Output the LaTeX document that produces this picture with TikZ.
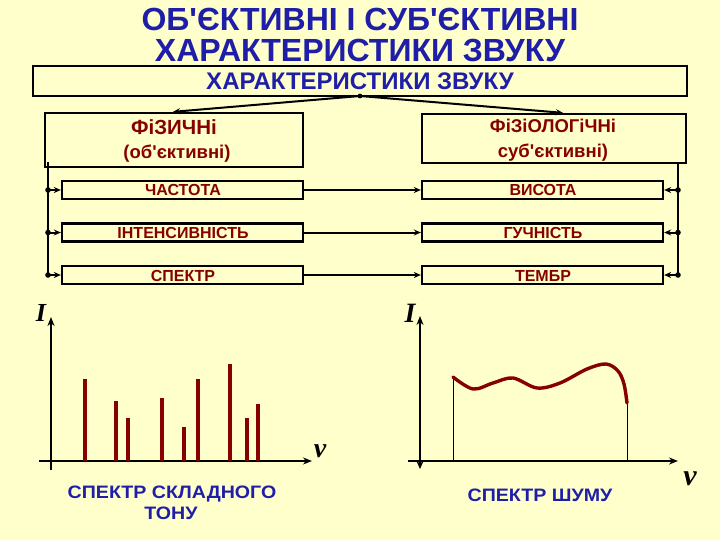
\documentclass[tikz,border=0pt]{standalone}
\usepackage{fontspec}
\setmainfont{Liberation Sans}[Ligatures=TeXOff]
\newfontfamily\widef{Liberation Sans}[Ligatures=TeXOff,FakeStretch=1.09]
\newfontfamily\serf{Liberation Serif}[Ligatures=TeXOff]
\usetikzlibrary{arrows.meta}
\definecolor{bg}{HTML}{FFFFCC}
\definecolor{tblue}{HTML}{1E1EA8}
\definecolor{dred}{HTML}{870000}
\tikzset{
  box/.style={draw=black, line width=2.3pt, inner sep=0pt},
  smallbox/.style={box, minimum width=241pt, minimum height=18pt},
  redtxt/.style={dred, font=\bfseries\fontsize{16}{18}\selectfont, anchor=base},
  conn/.style={line width=2pt, -{Stealth[length=7pt,width=6pt]}},
  bar/.style={dred, line width=3.2pt},
  axis/.style={line width=2pt, -{Stealth[length=9pt,width=7pt]}},
  capt/.style={tblue, font=\widef\bfseries\fontsize{18}{20}\selectfont, anchor=base},
  mathlbl/.style={font=\serf\bfseries\itshape\fontsize{26}{28}\selectfont, anchor=base}
}
\begin{document}
\begin{tikzpicture}[x=1pt,y=-1pt]
\fill[bg] (0,0) rectangle (720,540);
\useasboundingbox (0,0) rectangle (720,540);
% title
\node[tblue, font=\bfseries\fontsize{32}{34}\selectfont, anchor=base] (t1) at (360,31) {ОБ'ЄКТИВНІ І СУБ'ЄКТИВНІ};
\node[tblue, font=\bfseries\fontsize{32}{34}\selectfont, anchor=base] (t2) at (360,62) {ХАРАКТЕРИСТИКИ ЗВУКУ};
% top box
\node[box, minimum width=654pt, minimum height=30pt] (top) at (360,81) {};
\node[tblue, font=\bfseries\fontsize{24}{26}\selectfont, anchor=base] (toptxt) at (360,90) {ХАРАКТЕРИСТИКИ ЗВУКУ};
% big boxes
\node[box, minimum width=258pt, minimum height=54pt] (lbig) at (174,140) {};
\node[box, minimum width=264pt, minimum height=49pt] (rbig) at (554,138.5) {};
\node[dred, font=\bfseries\fontsize{20.5}{22}\selectfont, anchor=base] (lt1) at (174,135) {ФіЗИЧНі};
\node[dred, font=\bfseries\fontsize{18.5}{20}\selectfont, anchor=base] (lt2) at (177,159) {(об'єктивні)};
\node[dred, font=\bfseries\fontsize{18.5}{20}\selectfont, anchor=base] (rt1) at (553,133) {ФіЗіОЛОГіЧНі};
\node[dred, font=\bfseries\fontsize{18.5}{20}\selectfont, anchor=base] (rt2) at (553,158) {суб'єктивні)};
% connectors from top
\coordinate (topc) at (360,96);
\fill (topc) circle (2.4pt);
\draw[conn] (topc) -- ([xshift=-1pt]lbig.north);
\draw[conn] (topc) -- ([xshift=9pt]rbig.north);
% small boxes
\foreach \i/\y/\lt/\rt in {1/190/ЧАСТОТА/ВИСОТА, 2/232.5/ІНТЕНСИВНІСТЬ/ГУЧНІСТЬ, 3/275/СПЕКТР/ТЕМБР}{
  \node[smallbox] (ls\i) at (182.5,\y) {};
  \node[smallbox] (rs\i) at (542.5,\y) {};
  \node[redtxt] (lst\i) at (183,\y+6) {\lt};
  \node[redtxt] (rst\i) at (543,\y+6) {\rt};
  \draw[conn] (ls\i.east) -- (rs\i.west);
  \coordinate (ld\i) at (48,\y);
  \coordinate (rd\i) at (678,\y);
  \fill (ld\i) circle (2.8pt);
  \fill (rd\i) circle (2.8pt);
  \draw[conn] (ld\i) -- (ls\i.west);
  \draw[conn] (rd\i) -- (rs\i.east);
}
\coordinate (lvt) at (48,162);
\coordinate (rvt) at (678,163);
\draw[line width=2pt] (lvt) -- (ld3);
\draw[line width=2pt] (rvt) -- (rd3);
% chart 1
\draw[axis] (51,470) -- (51,317);
\draw[axis] (39,461) -- (312,461);
\node[mathlbl] (i1) at (41,321) {I};
\node[mathlbl, font=\serf\bfseries\itshape\fontsize{28}{30}\selectfont] (v1) at (320,457) {v};
\foreach \x/\t in {85/379, 116/401, 128/418, 162/398, 184/427, 198/379, 230/364, 247/418, 258/404}{
  \draw[bar] (\x,461) -- (\x,\t);
}
\node[capt] (c1) at (172,498) {СПЕКТР СКЛАДНОГО};
\node[capt] (c2) at (171,519) {ТОНУ};
% chart 2
\draw[line width=2.6pt, {Stealth[length=8pt,width=7pt]}-{Stealth[length=9pt,width=7pt]}] (420,469) -- (420,316);
\draw[axis] (408,461) -- (678,461);
\node[mathlbl, font=\serf\bfseries\itshape\fontsize{28}{30}\selectfont] (i2) at (410,322) {I};
\node[mathlbl, font=\serf\bfseries\itshape\fontsize{30}{32}\selectfont] (v2) at (690,485) {v};
\draw[line width=0.7pt] (453,461) -- (453,377);
\draw[line width=0.7pt] (627,461) -- (627,403);
\draw[dred, line width=3.4pt, line cap=round] plot[smooth, tension=0.55] coordinates {(453,377) (473,389) (493,383) (513,378) (537,388) (560,383) (587,369) (606,364) (618,371) (624,384) (627,403)};
\node[capt] (c3) at (540,501) {СПЕКТР ШУМУ};
\end{tikzpicture}
\end{document}
